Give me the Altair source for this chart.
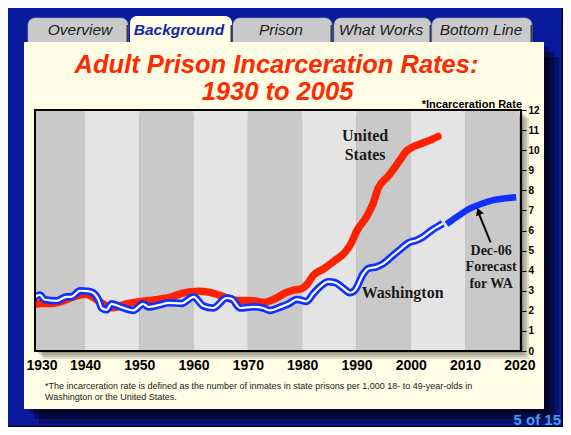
import altair as alt
import pandas as pd

# ---------------- data ----------------
us_years = [1930, 1932, 1934, 1936, 1938, 1940, 1941, 1943, 1945, 1947, 1950, 1953,
            1956, 1958, 1961, 1963, 1966, 1968, 1971, 1973, 1975, 1977, 1978, 1980,
            1981, 1982, 1984, 1986, 1988, 1989, 1990, 1992, 1993, 1994, 1996, 1998,
            1999, 2000, 2002, 2004, 2005]
us_rates = [2.33, 2.36, 2.37, 2.5, 2.7, 2.82, 2.75, 2.4, 2.15, 2.3, 2.45, 2.55,
            2.7, 2.88, 2.98, 2.92, 2.66, 2.52, 2.5, 2.42, 2.6, 2.9, 3.0, 3.12,
            3.35, 3.75, 4.1, 4.5, 4.95, 5.35, 5.95, 6.75, 7.3, 8.1, 8.75, 9.5,
            9.9, 10.1, 10.33, 10.55, 10.68]

wa_years = [1930, 1931.7, 1932.6, 1934.8, 1936.6, 1937.5, 1939.1, 1940.5, 1941.5, 1942.5,
            1943.1, 1944, 1944.9, 1946.5, 1948.9, 1950.7, 1951.7, 1953.8, 1955.4, 1957.8,
            1960, 1961.8, 1963.6, 1966.1, 1967, 1968.6, 1971, 1972.8, 1974.1, 1975.9,
            1977.5, 1979, 1980.8, 1982.1, 1983.3, 1984.8, 1986.1, 1987.6, 1988.8, 1989.7,
            1991.3, 1992.2, 1993.7, 1995, 1996.8, 1998.3, 1999.6, 2001.1, 2002.3, 2003.9,
            2005.1, 2005.9]
wa_rates = [2.5, 2.79, 2.55, 2.5, 2.7, 2.7, 3.0, 2.98, 2.9, 2.54,
            2.13, 2.05, 2.35, 2.2, 2.02, 2.35, 2.19, 2.3, 2.4, 2.37,
            2.7, 2.24, 2.14, 2.64, 2.6, 2.14, 2.2, 2.14, 2.02, 2.18,
            2.35, 2.57, 2.47, 2.87, 3.2, 3.45, 3.4, 3.12, 2.9, 3.03,
            3.86, 4.11, 4.19, 4.36, 4.78, 5.11, 5.39, 5.52, 5.69, 6.02,
            6.22, 6.35]

fc_years = [2006.6, 2008.5, 2010.3, 2012.8, 2015.2, 2017.7, 2019.4]
fc_rates = [6.32, 6.68, 7.01, 7.31, 7.51, 7.61, 7.65]

decade_starts = [1930, 1940, 1950, 1960, 1970, 1980, 1990, 2000, 2010]
decade_shades = ["dark", "light", "dark", "light", "dark", "light", "dark", "light", "dark"]

x_tick_values = [1932, 1940, 1950, 1960, 1970, 1980, 1990, 2000, 2010, 2020]
y_tick_values = list(range(0, 13))

tab_labels = ["Overview", "Background", "Prison", "What Works", "Bottom Line"]
active_tab = "Background"
title_lines = ["Adult Prison Incarceration Rates:", "1930 to 2005"]
footnote_lines = ["*The incarceration rate is defined as the number of inmates in state prisons per 1,000 18- to 49-year-olds in",
                  "Washington or the United States."]

arrow_years = [2014.7, 2012.6]
arrow_rates = [5.41, 6.8]
arrowhead_year = [2012.5]
arrowhead_rate = [6.95]

us_label = (1991.6, 10.71, ["United", "States"])
wa_label = (1998.5, 2.9, "Washington")
fc_label = (2014.8, 4.98, ["Dec-06", "Forecast", "for WA"])

# ---------------- tables ----------------
us_df = pd.DataFrame({"year": us_years, "rate": us_rates})
wa_df = pd.DataFrame({"year": wa_years, "rate": wa_rates})
fc_df = pd.DataFrame({"year": fc_years, "rate": fc_rates})
band_df = pd.DataFrame({"start": decade_starts,
                        "end": [d + 10 for d in decade_starts],
                        "shade": decade_shades})
arrow_df = pd.DataFrame({"year": arrow_years, "rate": arrow_rates})
head_df = pd.DataFrame({"year": arrowhead_year, "rate": arrowhead_rate})

SANS = "Liberation Sans"
SERIF = "Liberation Serif"
W, H = 486, 241
OX, OY = 35, 110  # page position of the plot area's top-left corner

def px(X):
    return X - OX

def py(Y):
    return Y - OY

def one():
    return alt.Data(values=[{"k": 0}])

def box(x1, y1, x2, y2, **mk):
    return alt.Chart(one()).mark_rect(**mk).encode(
        x=alt.value(px(x1)), x2=alt.value(px(x2)),
        y=alt.value(py(y1)), y2=alt.value(py(y2)))

def label(X, Y, txt, **mk):
    return alt.Chart(one()).mark_text(**mk).encode(
        x=alt.value(px(X)), y=alt.value(py(Y)), text=alt.value(txt))

xscale = alt.Scale(domain=[1930.8, 2020.3], nice=False, zero=False)
yscale = alt.Scale(domain=[0, 12], nice=False)
xaxis = alt.Axis(values=x_tick_values, format="d",
                 labelExpr="datum.value < 1935 ? '1930' : datum.label",
                 ticks=False, domain=False, grid=False, labelFont=SANS,
                 labelFontWeight="bold", labelFontSize=14, labelColor="black",
                 labelPadding=7, labelFlush=False, labelOverlap=False,
                 title=None, zindex=1)
yaxis = alt.Axis(orient="right", values=y_tick_values, tickSize=5, tickColor="black",
                 tickWidth=1, domain=False, grid=False, labelFont=SANS,
                 labelFontWeight="bold", labelFontSize=10, labelColor="black",
                 labelPadding=2, title=None, zindex=1)

layers = []
# slide border
layers.append(box(2, 7, 562.5, 426.5, fillOpacity=0, stroke="black", strokeWidth=1.5))
# panel drop shadow
for o in (5, 10, 15):
    layers.append(box(24 + o, 42 + o, 544 + o, 409 + o, color="black", opacity=0.35))
# inactive tabs
tab_spans = [(28, 128), (130, 232), (233, 332), (334, 431), (432, 532)]
tab_centers = [80, 179, 281, 381, 481]
for name, (a, b), c in zip(tab_labels, tab_spans, tab_centers):
    if name == active_tab:
        continue
    layers.append(box(a, 18, b, 44, color="#c9c9c9", cornerRadiusTopLeft=7,
                      cornerRadiusTopRight=7, stroke="#a8a8a8", strokeWidth=0.6))
    layers.append(box(b - 1.5, 25, b, 42, color="#3a3a3a"))
    layers.append(label(c, 35, name, font=SANS, fontSize=15.5, fontStyle="italic",
                        color="#1c1c1c", align="center", baseline="alphabetic"))
# panel
layers.append(box(24, 42, 544, 409, color="#fffde5"))
# active tab
for name, (a, b), c in zip(tab_labels, tab_spans, tab_centers):
    if name != active_tab:
        continue
    layers.append(box(a, 16, b, 43, color="#fffde5", cornerRadiusTopLeft=7,
                      cornerRadiusTopRight=7))
    layers.append(box(b - 1.5, 25, b, 42, color="#3a3a3a"))
    layers.append(label(c, 35, name, font=SANS, fontSize=15.5, fontStyle="italic",
                        fontWeight="bold", color="#1428a8", align="center",
                        baseline="alphabetic"))
# title
layers.append(label(276.5, 73, title_lines[0], font=SANS, fontSize=25.5, fontStyle="italic",
                    fontWeight="bold", color="#ff2a00", align="center", baseline="alphabetic"))
layers.append(label(277.5, 100, title_lines[1], font=SANS, fontSize=25.5, fontStyle="italic",
                    fontWeight="bold", color="#ff2a00", align="center", baseline="alphabetic"))
layers.append(label(522, 107.5, "*Incarceration Rate", font=SANS, fontSize=11,
                    fontWeight="bold", color="black", align="right", baseline="alphabetic"))
# footnote
layers.append(label(45, 389, footnote_lines[0], font=SANS, fontSize=9, color="#222222",
                    align="left", baseline="alphabetic"))
layers.append(label(45, 400, footnote_lines[1], font=SANS, fontSize=9, color="#222222",
                    align="left", baseline="alphabetic"))
layers.append(label(561, 425, "5 of 15", font=SANS, fontSize=15, fontWeight="bold",
                    color="#3d9df2", align="right", baseline="alphabetic"))
# plot shadow
for o in (2, 4, 6, 8):
    layers.append(box(35 + o, 110 + o, 521 + o, 351 + o, color="black", opacity=0.12))

# decade bands
bands = alt.Chart(band_df).mark_rect(clip=True).encode(
    x=alt.X("start:Q", scale=xscale, axis=xaxis),
    x2="end:Q",
    color=alt.Color("shade:N", scale=alt.Scale(domain=["dark", "light"],
                                               range=["#c9c9c9", "#e4e4e4"]), legend=None))
layers.append(bands)

def line(df, color, width, cap="butt"):
    return alt.Chart(df).mark_line(color=color, strokeWidth=width, strokeCap=cap,
                                   strokeJoin="round", interpolate="monotone",
                                   clip=True).encode(
        x=alt.X("year:Q", scale=xscale, axis=xaxis),
        y=alt.Y("rate:Q", scale=yscale, axis=yaxis))

layers.append(line(us_df, "#ff2200", 7.5, "round"))
layers.append(line(wa_df, "#1030ff", 7.5))
layers.append(line(wa_df, "white", 2.2))
layers.append(line(fc_df, "#1030ff", 6.5))

# annotations
def note(x, y, txt, size, lh):
    d = pd.DataFrame({"year": [x], "rate": [y]})
    return alt.Chart(d).mark_text(font=SERIF, fontSize=size, fontWeight="bold",
                                  color="#1a1a1a", align="center", baseline="middle",
                                  lineHeight=lh).encode(
        x=alt.X("year:Q", scale=xscale, axis=xaxis),
        y=alt.Y("rate:Q", scale=yscale, axis=yaxis),
        text=alt.value(txt))

layers.append(note(us_label[0], us_label[1], us_label[2], 16, 19))
layers.append(note(wa_label[0], wa_label[1], wa_label[2], 16, 19))
layers.append(note(fc_label[0], fc_label[1], fc_label[2], 14, 16.5))

layers.append(alt.Chart(arrow_df).mark_line(color="black", strokeWidth=2).encode(
    x=alt.X("year:Q", scale=xscale, axis=xaxis),
    y=alt.Y("rate:Q", scale=yscale, axis=yaxis)))
layers.append(alt.Chart(head_df).mark_point(shape="triangle-up", filled=True, color="black",
                                            size=70, angle=339, opacity=1).encode(
    x=alt.X("year:Q", scale=xscale, axis=xaxis),
    y=alt.Y("rate:Q", scale=yscale, axis=yaxis)))

# frame
layers.append(box(35, 110, 521, 351, fillOpacity=0, stroke="black", strokeWidth=2))

chart = alt.layer(*layers).properties(
    width=W, height=H,
    padding={"left": 27, "top": 102, "right": 42, "bottom": 76},
    autosize=alt.AutoSizeParams(type="none"),
).configure(background="#0a1a9c").configure_view(strokeWidth=0)

chart.save("out.html", embed_options={"renderer": "svg", "actions": False})
